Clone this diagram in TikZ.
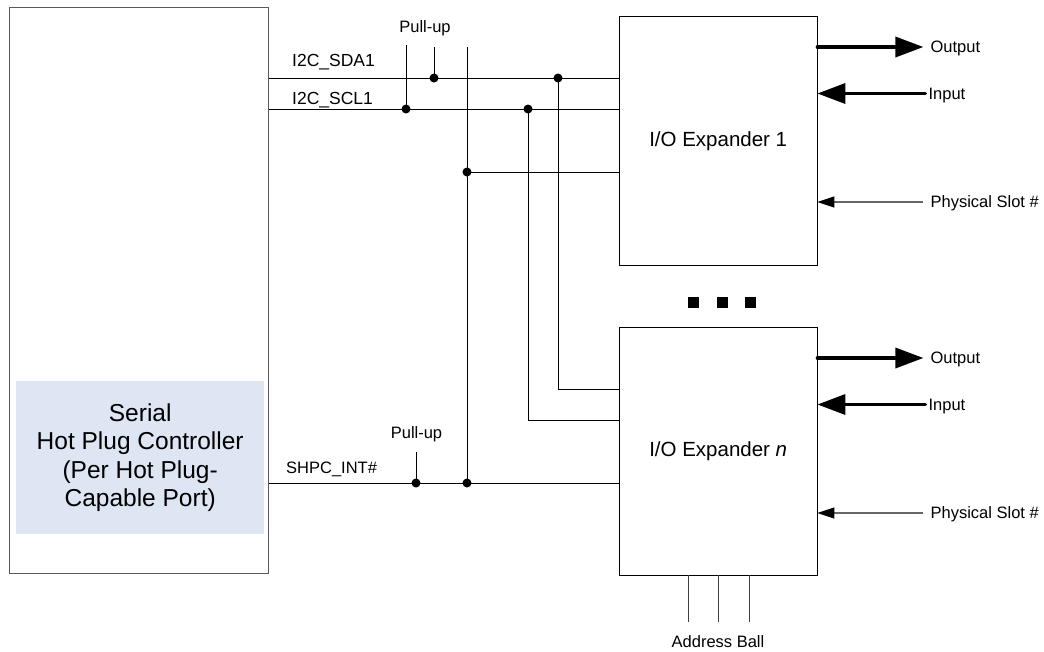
\documentclass[tikz,border=0pt]{standalone}
\usepackage{fontspec}
\setmainfont{Liberation Sans}
\usetikzlibrary{positioning,arrows.meta}
\definecolor{paleblue}{RGB}{221,230,242}

\begin{document}
\begin{tikzpicture}[
    x=1pt, y=-1pt,
    unit/.style={draw, anchor=north west, inner sep=0pt, minimum width=198pt, minimum height=248pt, font=\fontsize{20.5}{24}\selectfont},
    tag/.style={inner sep=0pt, text height=11.8pt, text depth=0pt, font=\fontsize{16.5}{19}\selectfont},
    wire/.style={line width=0.9pt},
    jdot/.style={circle, fill, inner sep=0pt, minimum size=9pt},
    sq/.style={fill, inner sep=0pt, minimum size=11pt},
    bold/.style={line width=3.5pt, line cap=round, -{Triangle[length=28pt, width=20pt]}},
    slot/.style={draw=black!60, line width=1.3pt, -{Triangle[length=17pt, width=11pt, color=black]}}
  ]
  \useasboundingbox (0,0) rectangle (1044,651);

  \node[draw=black!65, line width=1.2pt, anchor=north west, minimum width=259pt, minimum height=566pt] (ctrl) at (9,7) {};
  \node[fill=paleblue, anchor=north west, minimum width=248pt, minimum height=153pt, align=center, font=\fontsize{24.5}{28.5}\selectfont] (shpc) at (16,381) {Serial\\Hot Plug Controller\\(Per Hot Plug-\\Capable Port)};

  \node[unit, minimum height=249pt] (exp1) at (619,16) {I/O Expander 1};
  \node[unit] (expn) at (619,327) {I/O Expander \textit{n}};

  \foreach \i/\x in {1/693,2/722,3/750}
    \node[sq] (more\i) at (\x,302) {};

  % bus labels
  \node[tag, anchor=west, font=\fontsize{17.5}{20}\selectfont] (sdalbl) at (292,61) {I2C\_SDA1};
  \node[tag, anchor=west, font=\fontsize{17.5}{20}\selectfont] (scllbl) at (292,99) {I2C\_SCL1};
  \node[tag, anchor=west] (intlbl) at (286,468) {SHPC\_INT\#};
  \node[tag] (pullup1) at (425,26.5) {Pull-up};
  \node[tag] (pullup2) at (416.5,433) {Pull-up};

  % junctions
  \node[jdot] (jscl1) at (406,109) {};
  \node[jdot] (jsda1) at (434,78) {};
  \node[jdot] (jint1) at (467,172) {};
  \node[jdot] (jscl2) at (528,109) {};
  \node[jdot] (jsda2) at (558,78) {};
  \node[jdot] (jint2) at (416,483) {};
  \node[jdot] (jint3) at (467,483) {};
  \coordinate (pu1) at (406,45);
  \coordinate (pu2) at (434,47);
  \coordinate (pu3) at (416,452);
  \coordinate (bustop) at (467,47);
  \coordinate (sdan) at (0,389);
  \coordinate (scln) at (0,420);

  \draw[wire] (ctrl.east |- jsda1) -- (exp1.west |- jsda1);
  \draw[wire] (ctrl.east |- jscl1) -- (exp1.west |- jscl1);
  \draw[wire] (pu1) -- (jscl1.center);
  \draw[wire] (pu2) -- (jsda1.center);
  \draw[wire] (bustop) -- (jint3.center);
  \draw[wire] (jint1.center) -- (exp1.west |- jint1);
  \draw[wire] (jsda2.center) |- (expn.west |- sdan);
  \draw[wire] (jscl2.center) |- (expn.west |- scln);
  \draw[wire] (ctrl.east |- jint3) -- (expn.west |- jint3);
  \draw[wire] (pu3) -- (jint2.center);

  % expander pins
  \foreach \u in {exp1,expn} {
    \node[tag, anchor=west] (out-\u) at ([xshift=113pt, yshift=-31pt]\u.north east) {Output};
    \node[tag, anchor=west] (in-\u) at ([xshift=111pt, yshift=-77.5pt]\u.north east) {Input};
    \node[tag, anchor=west] (slot-\u) at ([xshift=113pt, yshift=-186pt]\u.north east) {Physical Slot \#};
    \draw[bold] (\u.east |- out-\u.west) -- ([xshift=-7pt]out-\u.west);
    \draw[bold] ([xshift=-3pt]in-\u.west) -- (\u.east |- in-\u.west);
    \draw[slot] ([xshift=-7pt]slot-\u.west) -- (\u.east |- slot-\u.west);
  }

  % address pins
  \node[tag] (addr) at (718,641.7) {Address Ball};
  \foreach \i/\x in {1/688,2/718,3/749} {
    \coordinate (ab\i) at (\x,622);
    \draw[wire, black!75] (expn.south -| ab\i) -- (ab\i);
  }
\end{tikzpicture}
\end{document}
